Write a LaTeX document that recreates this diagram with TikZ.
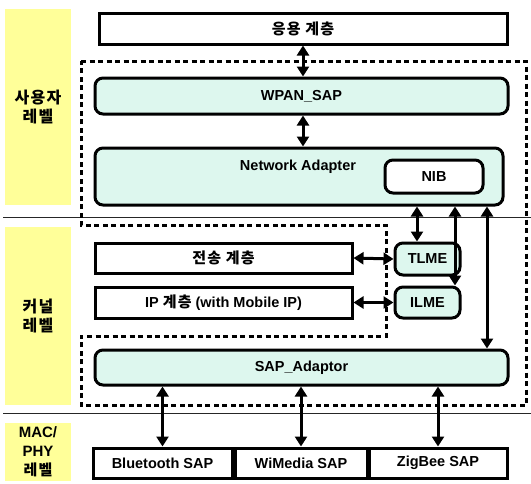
\documentclass[tikz,border=0pt]{standalone}
\usepackage{fontspec}
\setmainfont{Liberation Sans}
\newfontfamily\kr{Noto Sans CJK KR}[LetterSpace=8]
\usepackage{tikz}
\usetikzlibrary{arrows.meta}
\definecolor{paleyellow}{HTML}{FFFF99}
\definecolor{palecyan}{HTML}{DDF7EE}

\begin{document}
\begin{tikzpicture}[x=1pt,y=-1pt,
    font=\fontsize{14.5}{16}\selectfont\bfseries,
    lvl/.style={fill=paleyellow, minimum width=66pt, inner sep=0pt, align=center,
        font=\fontsize{15}{19}\selectfont\bfseries},
    plain/.style={draw, line width=3pt, fill=white, inner sep=0pt},
    sap/.style={plain, fill=palecyan, rounded corners=8pt},
    dashbox/.style={line width=3pt, dash pattern=on 5pt off 3.5pt},
    sepline/.style={line width=0.9pt, black!85},
    dbl/.style={{Triangle[length=10pt,width=12pt]}-{Triangle[length=10pt,width=12pt]}, line width=3pt}
]
\useasboundingbox (0,0) rectangle (531,483);

% level bands
\node[lvl, minimum height=196pt] (userlvl) at (38,107) {\kr\fontsize{16}{20}\selectfont 사용자\\\kr\fontsize{16}{20}\selectfont 레벨};
\node[lvl, minimum height=178pt] (kernlvl) at (38,316) {\kr\fontsize{16}{20}\selectfont 커널\\\kr\fontsize{16}{20}\selectfont 레벨};
\node[lvl, minimum height=58pt] (maclvl) at (38,452) {MAC/\\PHY\\\kr 레벨};
\draw[sepline] (3,217) -- (531,217);
\draw[sepline] (3,413) -- (531,413);

% dashed boundary
\draw[dashbox] (81,61) -- (526,61) -- (526,405) -- (81,405) -- (81,336)
    -- (386,336) -- (386,225) -- (81,225) -- cycle;

% layers
\node[plain, minimum width=408pt, minimum height=31pt] (app) at (303,28.5) {\kr\fontsize{15}{16}\selectfont 응용 계층};
\node[sap, minimum width=413pt, minimum height=36pt] (wpan) at (301.5,96) {WPAN\_SAP};
\node[sap, minimum width=408pt, minimum height=57pt] (netad) at (299,176.5) {};
\node (netadtxt) at (298,167) {Network Adapter};
\node[plain, rounded corners=8pt, minimum width=98pt, minimum height=33pt] (nib) at (434,176.5) {NIB};
\node[plain, minimum width=257pt, minimum height=30pt] (trans) at (223.5,258) {\kr\fontsize{15}{16}\selectfont 전송 계층};
\node[plain, minimum width=257pt, minimum height=31pt] (iplayer) at (223.5,302.5) {IP {\kr\fontsize{15}{16}\selectfont 계층} (with Mobile IP)};
\node[sap, minimum width=65pt, minimum height=32pt] (tlme) at (427.5,259) {TLME};
\node[sap, minimum width=65pt, minimum height=31pt] (ilme) at (427.5,302.5) {ILME};
\node[sap, minimum width=413pt, minimum height=35pt] (sapad) at (301.5,367.5) {SAP\_Adaptor};
\node[plain, minimum width=139pt, minimum height=30pt] (bt) at (162.5,463) {Bluetooth SAP};
\node[plain, minimum width=132pt, minimum height=30pt] (wm) at (301,463) {WiMedia SAP};
\node[plain, minimum width=138pt, minimum height=30pt] (zb) at (438,463) {ZigBee SAP};

% connectors
\coordinate (xa) at (303,0);
\coordinate (xb) at (417,0);
\coordinate (xc) at (455,0);
\coordinate (xd) at (487,0);
\draw[dbl] (app.south -| xa) -- (wpan.north -| xa);
\draw[dbl] (wpan.south -| xa) -- (netad.north -| xa);
\draw[dbl] (netad.south -| xb) -- (tlme.north -| xb);
\draw[dbl] (netad.south -| xc) -- (ilme.north -| xc);
\draw[dbl] (netad.south -| xd) -- (sapad.north -| xd);
\draw[dbl] (trans.east) -- (tlme.west);
\draw[dbl] (iplayer.east) -- (ilme.west);
\draw[dbl] (sapad.south -| bt) -- (bt.north);
\draw[dbl] (sapad.south -| wm) -- (wm.north);
\draw[dbl] (sapad.south -| zb) -- (zb.north);
\end{tikzpicture}
\end{document}
